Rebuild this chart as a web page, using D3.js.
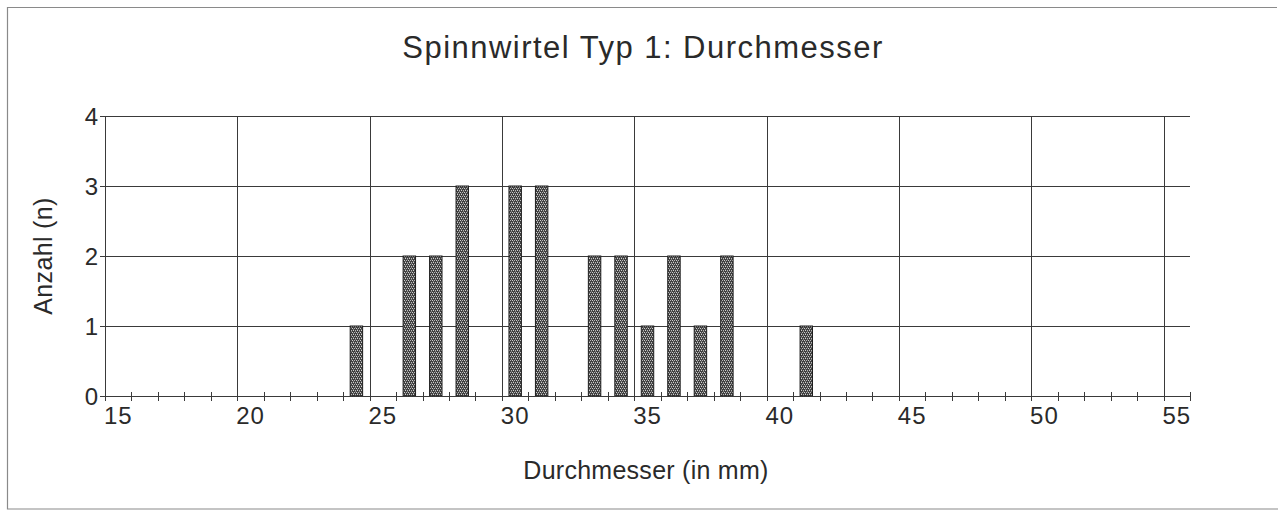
<!DOCTYPE html>
<html>
<head>
<meta charset="utf-8">
<script src="https://cdn.jsdelivr.net/npm/d3@7"></script>
<style>
  html, body { margin: 0; padding: 0; background: #fff; }
  svg { display: block; }
  text { font-family: "Liberation Sans", Arial, sans-serif; fill: #2a2a2a; }
</style>
</head>
<body>
<script>
// Diameter classes on the category axis (mm)
const categories = [15,16,17,18,19,20,21,22,23,24,25,26,27,28,29,30,31,32,33,34,35,
                    36,37,38,39,40,41,42,43,44,45,46,47,48,49,50,51,52,53,54,55];
// Measured diameters and how many spindle whorls have each
const diameters = [24, 26, 27, 28, 30, 31, 33, 34, 35, 36, 37, 38, 41];
const counts    = [ 1,  2,  2,  3,  3,  3,  2,  2,  1,  2,  1,  2,  1];
// Labelled categories and count ticks
const xTickLabels = [15, 20, 25, 30, 35, 40, 45, 50, 55];
const yTicks = [0, 1, 2, 3, 4];

const W = 1285, H = 510;
const plot = { left: 105, right: 1190, top: 116, bottom: 396 };

const svg = d3.select("body").append("svg").attr("width", W).attr("height", H);

// Woven dot fill for the columns
const defs = svg.append("defs");
const pat = defs.append("pattern").attr("id", "weave")
  .attr("patternUnits", "userSpaceOnUse").attr("width", 4).attr("height", 4);
pat.append("rect").attr("width", 4).attr("height", 4).attr("fill", "#404040");
[[0, 0, "#d0d0d0"], [2, 0, "#b8b8b8"], [1, 2, "#d0d0d0"], [3, 2, "#b8b8b8"],
 [1, 1, "#7a7a7a"], [3, 3, "#7a7a7a"]].forEach(([px, py, c]) =>
  pat.append("rect").attr("x", px).attr("y", py).attr("width", 1).attr("height", 1).attr("fill", c));

// Chart frame (top, left, bottom)
svg.append("path").attr("d", "M1277,7.5 H7.5 V509 H1278")
  .attr("stroke", "#8a8a8a").attr("stroke-width", 1.2).attr("fill", "none");

const x = d3.scaleBand()
  .domain(categories)
  .range([plot.left, plot.right])
  .paddingInner(0.53)
  .paddingOuter(0.265);
const step = x.step();
const edge = c => x(c) - x.paddingInner() * step / 2;   // left boundary of a category slot

const y = d3.scaleLinear().domain([0, 4]).range([plot.bottom, plot.top]);

const gridColor = "#3a3a3a";

// Horizontal gridlines
svg.append("g").selectAll("line").data(yTicks.filter(d => d > 0)).join("line")
  .attr("x1", plot.left).attr("x2", plot.right)
  .attr("y1", d => Math.round(y(d)) + 0.5).attr("y2", d => Math.round(y(d)) + 0.5)
  .attr("stroke", gridColor).attr("stroke-width", 1);

// Vertical gridlines at the labelled categories
svg.append("g").selectAll("line").data(xTickLabels.filter(d => d > categories[0])).join("line")
  .attr("x1", d => Math.round(edge(d)) + 0.5).attr("x2", d => Math.round(edge(d)) + 0.5)
  .attr("y1", plot.top).attr("y2", plot.bottom)
  .attr("stroke", gridColor).attr("stroke-width", 1);

// Columns
svg.append("g").selectAll("rect").data(diameters).join("rect")
  .attr("x", d => x(d))
  .attr("width", x.bandwidth())
  .attr("y", (d, i) => y(counts[i]))
  .attr("height", (d, i) => y(0) - y(counts[i]))
  .attr("fill", "url(#weave)")
  .attr("stroke", "#1e1e1e").attr("stroke-width", 1);

// Y axis
const yAxis = svg.append("g");
yAxis.append("line").attr("x1", plot.left + 0.5).attr("x2", plot.left + 0.5)
  .attr("y1", plot.top).attr("y2", plot.bottom).attr("stroke", gridColor);
yAxis.selectAll("line.tick").data(yTicks).join("line").attr("class", "tick")
  .attr("x1", plot.left - 5).attr("x2", plot.left)
  .attr("y1", d => Math.round(y(d)) + 0.5).attr("y2", d => Math.round(y(d)) + 0.5)
  .attr("stroke", gridColor);
yAxis.selectAll("text").data(yTicks).join("text")
  .attr("x", plot.left - 7).attr("y", d => y(d))
  .attr("dy", "0.36em").attr("text-anchor", "end")
  .attr("font-size", 24).text(d => d);

// X axis: ticks on every category boundary, labels every fifth category
const xAxis = svg.append("g");
xAxis.append("line").attr("x1", plot.left).attr("x2", plot.right)
  .attr("y1", plot.bottom + 0.5).attr("y2", plot.bottom + 0.5).attr("stroke", gridColor);
const boundaries = categories.map(edge).concat([plot.right]);
xAxis.selectAll("line.tick").data(boundaries).join("line").attr("class", "tick")
  .attr("x1", d => Math.round(d) + 0.5).attr("x2", d => Math.round(d) + 0.5)
  .attr("y1", plot.bottom - 4).attr("y2", plot.bottom + 5)
  .attr("stroke", gridColor);
xAxis.selectAll("text").data(xTickLabels).join("text")
  .attr("x", d => x(d) + x.bandwidth() / 2)
  .attr("y", 424)
  .attr("text-anchor", "middle")
  .attr("font-size", 24)
  .attr("letter-spacing", 1)
  .text(d => d);

// Titles
function fitText(sel, width) {
  const n = sel.text().length;
  const w = sel.node().getComputedTextLength();
  sel.attr("letter-spacing", Math.max(0, (width - w) / (n - 1)));
}
const title = svg.append("text")
  .attr("x", 643).attr("y", 58).attr("text-anchor", "middle")
  .attr("font-size", 31).text("Spinnwirtel Typ 1: Durchmesser");
fitText(title, 480);

const xTitle = svg.append("text")
  .attr("x", 646).attr("y", 479).attr("text-anchor", "middle")
  .attr("font-size", 25).text("Durchmesser (in mm)");
fitText(xTitle, 245);

const yTitle = svg.append("text")
  .attr("transform", "translate(52,256) rotate(-90)")
  .attr("text-anchor", "middle")
  .attr("font-size", 25).text("Anzahl (n)");
fitText(yTitle, 117);
</script>
</body>
</html>
